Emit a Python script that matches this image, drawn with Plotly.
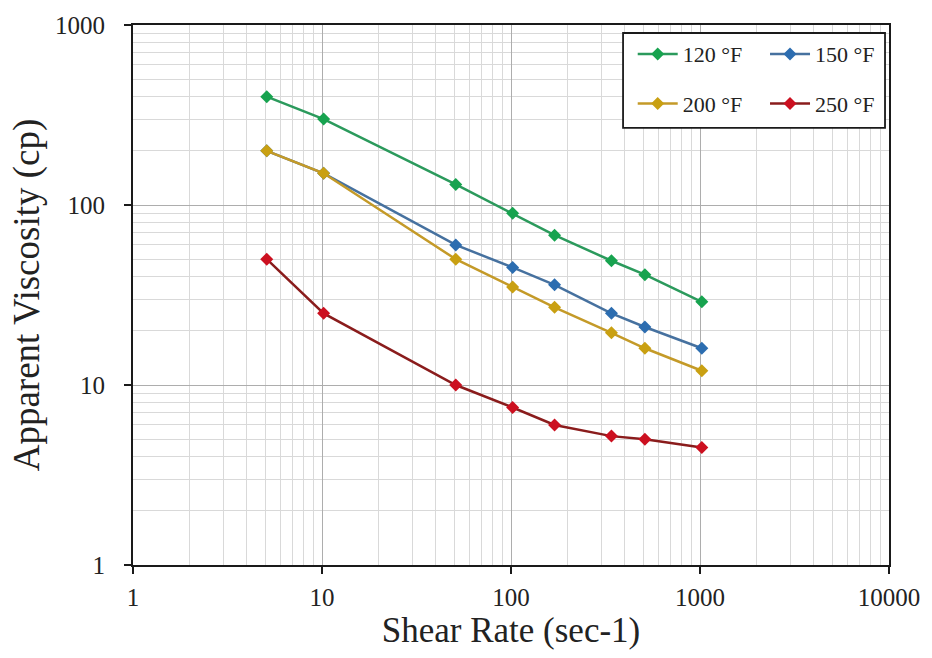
import plotly.graph_objects as go

# Shear rates (sec-1) from the rotational viscometer speeds
shear_rate = [5.1, 10.2, 51, 102, 170, 340, 511, 1022]

# Apparent viscosity (cp) at each temperature
visc_120 = [400, 300, 130, 90, 68, 49, 41, 29]
visc_150 = [200, 150, 60, 45, 36, 25, 21, 16]
visc_200 = [200, 150, 50, 35, 27, 19.5, 16, 12]
visc_250 = [50, 25, 10, 7.5, 6, 5.2, 5, 4.5]

series = [
    ("120 °F", visc_120, "#2b9a5c", "#17a34f", "legend"),
    ("150 °F", visc_150, "#46719f", "#2c6db0", "legend2"),
    ("200 °F", visc_200, "#c49a28", "#c9a012", "legend"),
    ("250 °F", visc_250, "#8a1c1c", "#cc1020", "legend2"),
]

fig = go.Figure()
for i, (name, vals, line_c, mark_c, leg) in enumerate(series):
    fig.add_trace(go.Scatter(
        x=shear_rate, y=vals, name=name, mode="lines+markers",
        line=dict(color=line_c, width=2.5),
        marker=dict(symbol="diamond", size=10, color=mark_c),
        legend=leg, legendgroup=f"g{i}",
    ))

serif = "Liberation Serif, Times New Roman, serif"

axis_common = dict(
    type="log",
    showline=True, linecolor="#1a1a1a", linewidth=2, mirror=True,
    ticks="outside", ticklen=7, tickwidth=1.5, tickcolor="#1a1a1a",
    showgrid=True, gridcolor="#adadad", gridwidth=1.2,
    minor=dict(showgrid=True, gridcolor="#d9d9d9", gridwidth=1.2, dtick="D1"),
    tickfont=dict(family=serif, size=25, color="#222"),
    zeroline=False,
)

fig.update_xaxes(
    **axis_common,
    range=[0, 4], dtick=1, tickvals=[1, 10, 100, 1000, 10000],
    ticktext=["1", "10", "100", "1000", "10000"],
    ticklabelstandoff=2,
    title=dict(text="Shear Rate (sec-1)", font=dict(family=serif, size=35, color="#222"), standoff=1),
)
fig.update_yaxes(
    **axis_common,
    range=[0, 3], dtick=1, tickvals=[1, 10, 100, 1000],
    ticktext=["1", "10", "100", "1000"],
    ticklabelstandoff=14,
    title=dict(text="Apparent Viscosity (cp)", font=dict(family=serif, size=37, color="#222"), standoff=4),
)

legend_style = dict(
    bgcolor="rgba(0,0,0,0)", borderwidth=0,
    font=dict(family=serif, size=22, color="#222"),
    traceorder="grouped", tracegroupgap=18,
    itemwidth=40, xanchor="left", yanchor="top",
)

fig.update_layout(
    width=932, height=658,
    margin=dict(l=133, r=40, t=24, b=93),
    paper_bgcolor="white", plot_bgcolor="white",
    showlegend=True,
    legend=dict(**legend_style, x=0.661, y=0.985),
    legend2=dict(**legend_style, x=0.836, y=0.985),
    shapes=[dict(
        type="rect", xref="paper", yref="paper",
        x0=(625 - 133) / 759, x1=(888 - 133) / 759,
        y0=(565 - 127) / 541, y1=(565 - 32) / 541,
        line=dict(color="#1a1a1a", width=1.8), fillcolor="white", layer="above",
    )],
)

fig.write_html("out.html")
